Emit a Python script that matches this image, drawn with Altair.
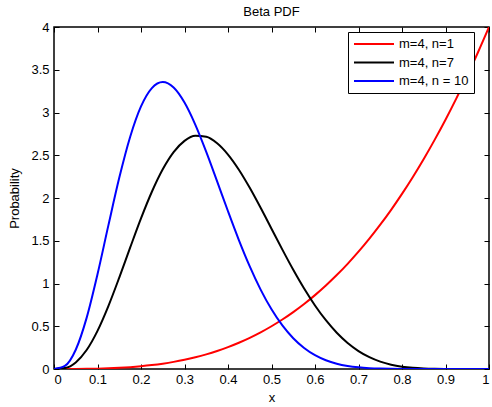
import altair as alt
import pandas as pd

x_vals = [0, 0.025, 0.05, 0.075, 0.1, 0.125, 0.15, 0.175, 0.2, 0.225, 0.25, 0.275, 0.3, 0.325,
          0.35, 0.375, 0.4, 0.425, 0.45, 0.475, 0.5, 0.525, 0.55, 0.575, 0.6, 0.625, 0.65, 0.675,
          0.7, 0.725, 0.75, 0.775, 0.8, 0.825, 0.85, 0.875, 0.9, 0.925, 0.95, 0.975, 1.0]

red_vals = [0, 0.0001, 0.0005, 0.0017, 0.004, 0.0078, 0.0135, 0.0214, 0.032, 0.0456, 0.0625,
            0.0832, 0.108, 0.1373, 0.1715, 0.2109, 0.256, 0.3071, 0.3645, 0.4287, 0.5, 0.5788,
            0.6655, 0.7604, 0.864, 0.9766, 1.0985, 1.2302, 1.372, 1.5243, 1.6875, 1.8619, 2.048,
            2.2461, 2.4565, 2.6797, 2.916, 3.1658, 3.4295, 3.7074, 4.0]

black_vals = [0, 0.0113, 0.0772, 0.2220, 0.4464, 0.7363, 1.0692, 1.4194, 1.7616, 2.0732, 2.3360,
              2.5369, 2.6683, 2.7274, 2.7162, 2.6403, 2.5082, 2.3305, 2.1188, 1.8850, 1.6406,
              1.3961, 1.1605, 0.9411, 0.7432, 0.5703, 0.4241, 0.3044, 0.2100, 0.1385, 0.0865,
              0.0507, 0.0275, 0.0135, 0.0059, 0.0021, 0.0006, 0.0001, 0, 0, 0]

blue_vals = [0, 0.0356, 0.2253, 0.5982, 1.1080, 1.6795, 2.2357, 2.7138, 3.0709, 3.2857, 3.3554,
             3.2917, 3.1161, 2.8559, 2.5397, 2.1948, 1.8447, 1.5085, 1.2003, 0.9287, 0.6982,
             0.5094, 0.3601, 0.2460, 0.1619, 0.1024, 0.0619, 0.0356, 0.0193, 0.0098, 0.0046,
             0.0020, 0.0007, 0.0002, 0.0001, 0, 0, 0, 0, 0, 0]

series_names = ["m=4, n=1", "m=4, n=7", "m=4, n = 10"]
series_colors = ["#ff0000", "#000000", "#0000ff"]

x_ticks = [0, 0.1, 0.2, 0.3, 0.4, 0.5, 0.6, 0.7, 0.8, 0.9, 1]
y_ticks = [0, 0.5, 1, 1.5, 2, 2.5, 3, 3.5, 4]

rows = []
for name, vals in zip(series_names, [red_vals, black_vals, blue_vals]):
    for xv, yv in zip(x_vals, vals):
        rows.append({"x": xv, "y": yv, "series": name})
df = pd.DataFrame(rows)

FONT = "Liberation Sans"
FS = 13
W, H = 435, 342

xscale = alt.Scale(domain=[0, 1], nice=False, zero=False)
yscale = alt.Scale(domain=[0, 4], nice=False, zero=False)

base = alt.Chart(df)

lines = base.mark_line(strokeWidth=2, clip=True, interpolate="monotone").encode(
    x=alt.X("x:Q", scale=xscale,
            axis=alt.Axis(values=x_ticks, format="~g", title="x", tickSize=0, domain=False,
                          grid=False, labelPadding=4, titlePadding=5, orient="bottom",
                          labelFont=FONT, labelFontSize=FS, labelColor="black",
                          titleFont=FONT, titleFontSize=FS, titleFontWeight="normal",
                          titleColor="black")),
    y=alt.Y("y:Q", scale=yscale,
            axis=alt.Axis(values=y_ticks, format="~g", title="Probability", tickSize=0,
                          domain=False, grid=False, labelPadding=5, titlePadding=9,
                          orient="left",
                          labelFont=FONT, labelFontSize=FS, labelColor="black",
                          titleFont=FONT, titleFontSize=FS, titleFontWeight="normal",
                          titleColor="black")),
    color=alt.Color("series:N",
                    scale=alt.Scale(domain=series_names, range=series_colors),
                    sort=series_names,
                    legend=alt.Legend(title=None, orient="none", legendX=294, legendY=5,
                                      symbolType="stroke", symbolSize=1600,
                                      symbolStrokeWidth=2, labelOffset=4, clipHeight=14,
                                      labelFontSize=FS, labelFont=FONT, labelColor="black",
                                      strokeColor="black", fillColor="white", padding=5,
                                      rowPadding=4.5)),
)

# inward ticks at bottom and left
ticks_a = base.mark_point(opacity=0, size=1).encode(
    x=alt.X("x:Q", scale=xscale,
            axis=alt.Axis(values=x_ticks, orient="top", offset=-H, labels=False, title=None,
                          domain=False, grid=False, tickSize=5, tickColor="black")),
    y=alt.Y("y:Q", scale=yscale,
            axis=alt.Axis(values=y_ticks, orient="right", offset=-W, labels=False, title=None,
                          domain=False, grid=False, tickSize=5, tickColor="black")),
)

# inward ticks at top and right
ticks_b = base.mark_point(opacity=0, size=1).encode(
    x=alt.X("x:Q", scale=xscale,
            axis=alt.Axis(values=x_ticks, orient="bottom", offset=-H, labels=False, title=None,
                          domain=False, grid=False, tickSize=5, tickColor="black")),
    y=alt.Y("y:Q", scale=yscale,
            axis=alt.Axis(values=y_ticks, orient="left", offset=-W, labels=False, title=None,
                          domain=False, grid=False, tickSize=5, tickColor="black")),
)

chart = alt.layer(lines, ticks_a, ticks_b).resolve_axis(
    x="independent", y="independent"
).properties(
    width=W, height=H,
    title=alt.TitleParams("Beta PDF", fontSize=FS, fontWeight="normal", font=FONT,
                          color="black", offset=2, frame="group"),
    autosize=alt.AutoSizeParams(type="none"),
    padding={"left": 54, "top": 27, "right": 3, "bottom": 38},
    background="white",
).configure_view(
    stroke="black", strokeWidth=1.5
)

chart.save("out.html", embed_options={"renderer": "svg", "actions": False})
